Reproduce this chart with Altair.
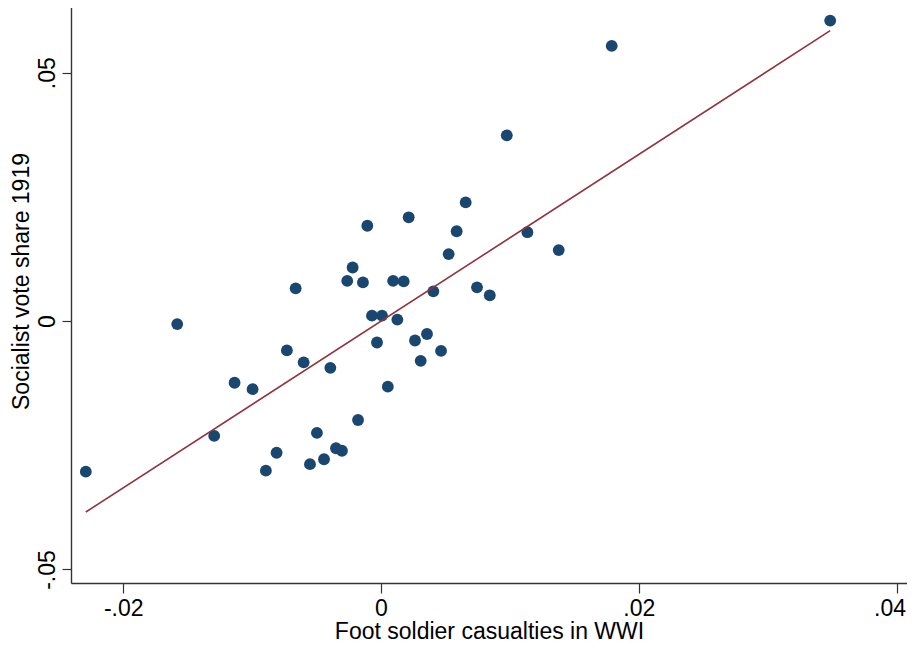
import altair as alt
import pandas as pd

# Foot soldier casualties in WWI (x) and Socialist vote share 1919 (y)
casualties = [
    -0.02290, -0.01581, -0.01294, -0.01136, -0.00996, -0.00893, -0.00810,
    -0.00730, -0.00662, -0.00600, -0.00551, -0.00497, -0.00442, -0.00393,
    -0.00349, -0.00303, -0.00262, -0.00220, -0.00178, -0.00140, -0.00106,
    -0.00070, -0.00031, 0.00008, 0.00053, 0.00094, 0.00127, 0.00176,
    0.00215, 0.00264, 0.00308, 0.00357, 0.00406, 0.00466, 0.00525,
    0.00587, 0.00657, 0.00745, 0.00844, 0.00976, 0.01136, 0.01379,
    0.01790, 0.03485,
]
vote_share = [
    -0.0303, -0.0006, -0.0231, -0.0124, -0.0137, -0.0301, -0.0265,
    -0.0059, 0.0066, -0.0083, -0.0288, -0.0225, -0.0278, -0.0094,
    -0.0256, -0.0261, 0.0081, 0.0108, -0.0199, 0.0078, 0.0192,
    0.0011, -0.0043, 0.0011, -0.0132, 0.0081, 0.0003, 0.0080,
    0.0209, -0.0039, -0.0080, -0.0026, 0.0060, -0.0060, 0.0135,
    0.0181, 0.0239, 0.0068, 0.0052, 0.0374, 0.0179, 0.0143,
    0.0554, 0.0605,
]

# Fitted line (linear fit) end points
fit_x = [-0.02290, 0.03485]
fit_y = [-0.03843, 0.05847]

x_ticks = [-0.02, 0, 0.02, 0.04]
x_tick_labels = ["-.02", "0", ".02", ".04"]
y_ticks = [-0.05, 0, 0.05]
y_tick_labels = ["-.05", "0", ".05"]

x_title = "Foot soldier casualties in WWI"
y_title = "Socialist vote share 1919"

df = pd.DataFrame({"x": casualties, "y": vote_share})
fit_df = pd.DataFrame({"x": fit_x, "y": fit_y})


def label_expr(vals, labels):
    expr = "''"
    for v, l in reversed(list(zip(vals, labels))):
        expr = f"abs(datum.value - ({v})) < 1e-9 ? '{l}' : " + expr
    return expr


FONT = "Liberation Sans"
AX = "#333333"

x_scale = alt.Scale(domain=[-0.02405, 0.04081], nice=False, zero=False)
y_scale = alt.Scale(domain=[-0.05272, 0.06364], nice=False, zero=False)

last_x = "datum.value > 0.03"

x_axis = alt.Axis(
    values=x_ticks, labelExpr=label_expr(x_ticks, x_tick_labels),
    title=x_title, grid=False, tickSize=10, tickColor=AX, tickWidth=1.2,
    domainColor=AX, domainWidth=1.4, labelFont=FONT, labelFontSize=23,
    labelColor="black", labelBaseline="middle", labelPadding=15,
    labelAlign={"condition": {"test": last_x, "value": "right"}, "value": "center"},
    labelOffset={"condition": {"test": last_x, "value": 9}, "value": 0},
    titleFont=FONT, titleFontSize=23, titleFontWeight="normal",
    titleColor="black", titleBaseline="middle", titleY=48,
    labelFlush=False, labelOverlap=False,
)
y_axis = alt.Axis(
    values=y_ticks, labelExpr=label_expr(y_ticks, y_tick_labels),
    title=y_title, grid=False, tickSize=9, tickColor=AX, tickWidth=1.2,
    domainColor=AX, domainWidth=1.4, labelFont=FONT, labelFontSize=23,
    labelColor="black", labelAngle=270, labelAlign="center",
    labelBaseline="middle", labelPadding=15,
    titleFont=FONT, titleFontSize=23, titleFontWeight="normal",
    titleColor="black", titleAngle=270, titleAlign="center",
    titleBaseline="middle", titleX=-50, titleY=276,
    labelFlush=False, labelOverlap=False,
)

points = alt.Chart(df).mark_circle(size=140, color="#1a476f", opacity=1).encode(
    x=alt.X("x:Q", scale=x_scale, axis=x_axis),
    y=alt.Y("y:Q", scale=y_scale, axis=y_axis),
)

fit = alt.Chart(fit_df).mark_line(color="#90353b", strokeWidth=1.6).encode(
    x=alt.X("x:Q", scale=x_scale),
    y=alt.Y("y:Q", scale=y_scale),
)

chart = (
    alt.layer(points, fit)
    .properties(
        width=836, height=578,
        autosize=alt.AutoSizeParams(type="none"),
        padding={"left": 63, "top": -3, "right": 0, "bottom": 57},
    )
    .configure_view(stroke=None)
    .configure(background="white")
)

chart.save("out.html", embed_options={"renderer": "svg", "actions": False})
